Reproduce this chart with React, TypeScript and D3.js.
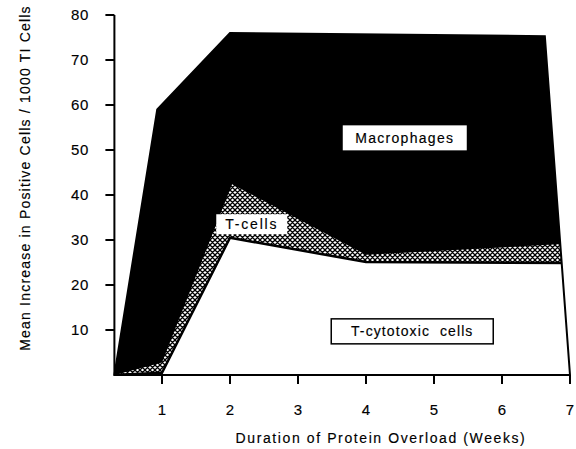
import React from "react";
import * as d3 from "d3";

const W = 576;
const H = 449;

// Cumulative tops of stacked layers: [week, value]
const macrophageTop: [number, number][] = [
  [0.3, 0],
  [0.93, 59],
  [2.0, 76],
  [6.63, 75.3],
  [7.0, 0],
];
const tCellTop: [number, number][] = [
  [0.3, 0],
  [1.0, 2.8],
  [2.03, 42.4],
  [4.0, 26.7],
  [7.0, 29.2],
];
const tCytotoxicTop: [number, number][] = [
  [0.3, 0],
  [1.0, 0.5],
  [2.0, 30.5],
  [4.0, 25.1],
  [7.0, 24.9],
];

const xTicks = [1, 2, 3, 4, 5, 6, 7];
const yTicks = [10, 20, 30, 40, 50, 60, 70, 80];

const labels = [
  { text: "Macrophages", week: 4.57, value: 52.7, w: 124, h: 25, border: false, ls: 1.3 },
  { text: "T-cells", week: 2.32, value: 33.5, w: 71, h: 20, border: false, ls: 1.8 },
  { text: "T-cytotoxic  cells", week: 4.68, value: 9.7, w: 162, h: 25, border: true, ls: 1.1 },
];

const FONT = "'Liberation Sans', Arial, Helvetica, sans-serif";
const TXT = { stroke: "#000", strokeWidth: 0.15, whiteSpace: "pre" as const };

export default function App() {
  const x = d3.scaleLinear().domain([0, 7]).range([94, 570]);
  const y = d3.scaleLinear().domain([0, 80]).range([375, 15]);

  const area = d3
    .area<[number, number]>()
    .x((d) => x(d[0]))
    .y0(y(0))
    .y1((d) => y(d[1]));
  const line = d3
    .line<[number, number]>()
    .x((d) => x(d[0]))
    .y((d) => y(d[1]));

  const totalPath = line(macrophageTop) + "Z";

  return (
    <svg
      width={W}
      height={H}
      style={{ position: "absolute", left: 0, top: 0, background: "#fff" }}
      fontFamily={FONT}
    >
      <defs>
        <clipPath id="outline">
          <path d={totalPath} />
        </clipPath>
        <pattern id="hatch" width={5} height={5} patternUnits="userSpaceOnUse">
          <rect width={5} height={5} fill="#fff" />
          <path d="M0,0L5,5M5,0L0,5M-1,4L1,6M4,-1L6,1M-1,1L1,-1M4,6L6,4" stroke="#000" strokeWidth={1.3} />
        </pattern>
      </defs>

      <path d={totalPath} fill="#000" />
      <g clipPath="url(#outline)">
        <path d={area(tCellTop) ?? ""} fill="url(#hatch)" />
        <path d={area(tCytotoxicTop) ?? ""} fill="#fff" />
        <path d={line(tCytotoxicTop) ?? ""} fill="none" stroke="#000" strokeWidth={2.5} />
      </g>
      <path d={totalPath} fill="none" stroke="#000" strokeWidth={2} />

      {/* Y axis */}
      <line x1={x(0.3)} x2={x(0.3)} y1={y(80)} y2={y(0)} stroke="#000" strokeWidth={2} />
      {yTicks.map((t) => (
        <g key={t}>
          <line x1={x(0.3) - 9} x2={x(0.3)} y1={y(t)} y2={y(t)} stroke="#000" strokeWidth={2} />
          <text
            x={89}
            y={y(t)}
            dy="0.36em"
            textAnchor="end"
            fontSize={15}
            letterSpacing={0.6}
            fill="#000"
            style={TXT}
          >
            {t}
          </text>
        </g>
      ))}

      {/* X axis */}
      <line x1={x(0.3)} x2={x(7)} y1={y(0)} y2={y(0)} stroke="#000" strokeWidth={2} />
      {xTicks.map((t) => (
        <g key={t}>
          <line x1={x(t)} x2={x(t)} y1={y(0)} y2={y(0) + 9} stroke="#000" strokeWidth={2} />
          <text x={x(t)} y={415} textAnchor="middle" fontSize={15} fill="#000" style={TXT}>
            {t}
          </text>
        </g>
      ))}

      <text x={381} y={443} textAnchor="middle" fontSize={14} letterSpacing={1.6} fill="#000" style={TXT}>
        Duration of Protein Overload (Weeks)
      </text>
      <text
        transform="translate(30,178) rotate(-90)"
        textAnchor="middle"
        fontSize={14}
        letterSpacing={1.2}
        fill="#000"
        style={TXT}
      >
        Mean Increase in Positive Cells / 1000 TI Cells
      </text>

      {labels.map((l) => {
        const cx = x(l.week);
        const cy = y(l.value);
        return (
          <g key={l.text}>
            <rect
              x={cx - l.w / 2}
              y={cy - l.h / 2}
              width={l.w}
              height={l.h}
              fill="#fff"
              stroke={l.border ? "#000" : "none"}
              strokeWidth={1.5}
            />
            <text
              x={cx}
              y={cy}
              dy="0.36em"
              textAnchor="middle"
              fontSize={14}
              letterSpacing={l.ls}
              fill="#000"
              style={TXT}
            >
              {l.text}
            </text>
          </g>
        );
      })}
    </svg>
  );
}
